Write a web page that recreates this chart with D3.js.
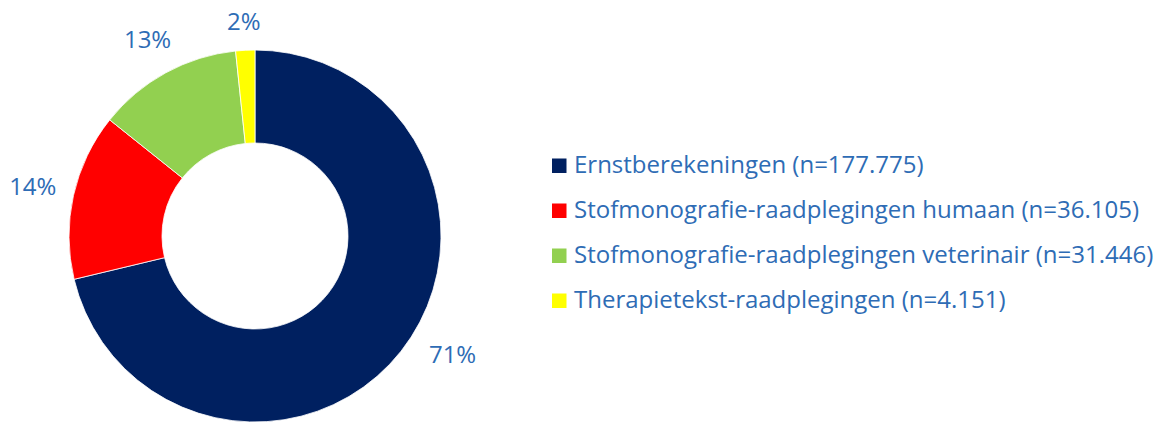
<!DOCTYPE html>
<html>
<head>
<meta charset="utf-8">
<script src="https://cdn.jsdelivr.net/npm/d3@7"></script>
<style>
  body { margin: 0; background: #fff; }
  text { font-family: "Open Sans", sans-serif; fill: #2E6CB5; }
</style>
</head>
<body>
<script>
var categories = [
  "Ernstberekeningen (n=177.775)",
  "Stofmonografie-raadplegingen humaan (n=36.105)",
  "Stofmonografie-raadplegingen veterinair (n=31.446)",
  "Therapietekst-raadplegingen (n=4.151)"
];
var values = [177775, 36105, 31446, 4151];
var pctLabels = ["71%", "14%", "13%", "2%"];
var colors = ["#002060", "#FF0000", "#92D050", "#FFFF00"];

var width = 1163, height = 423;
var cx = 255, cy = 236, outerR = 186, innerR = 93;
var fontSize = 24;

var svg = d3.select("body").append("svg")
    .attr("width", width)
    .attr("height", height);

var data = values.map(function (v, i) {
  return { name: categories[i], value: v, label: pctLabels[i], color: colors[i] };
});

var pie = d3.pie()
    .sort(null)
    .value(function (d) { return d.value; });

var arc = d3.arc()
    .innerRadius(innerR)
    .outerRadius(outerR);

var g = svg.append("g")
    .attr("transform", "translate(" + cx + "," + cy + ")");

var arcs = pie(data);

g.selectAll("path")
    .data(arcs)
  .enter().append("path")
    .attr("d", arc)
    .attr("fill", function (d) { return d.data.color; })
    .attr("stroke", "#fff")
    .attr("stroke-width", 0.8);

// outside labels: keep a fixed gap between the ring and the label box,
// and keep them clear of the bottom edge like the original does
var labels = g.selectAll("text")
    .data(arcs)
  .enter().append("text")
    .attr("text-anchor", "middle")
    .attr("dy", ".35em")
    .style("font-size", fontSize + "px")
    .text(function (d) { return d.data.label; });

labels.attr("transform", function (d) {
  var a = (d.startAngle + d.endAngle) / 2;
  var ux = Math.sin(a), uy = -Math.cos(a);
  var w = this.getComputedTextLength(), h = fontSize;
  var r = outerR + 16 + Math.abs(ux) * w / 2 + Math.abs(uy) * h / 2;
  var x = ux * r, y = uy * r;
  var maxY = outerR * 0.64;
  if (y > maxY) {
    // slide sideways until the label fits above the limit
    y = maxY;
    var ix = Math.sqrt(Math.max(0, outerR * outerR - y * y));
    x = (x >= 0 ? 1 : -1) * (ix + 31 + w / 2);
  }
  return "translate(" + x + "," + y + ")";
});

// legend
var legend = svg.append("g")
    .attr("transform", "translate(552,165.5)");

var item = legend.selectAll("g")
    .data(data)
  .enter().append("g")
    .attr("transform", function (d, i) { return "translate(0," + (i * 45) + ")"; });

item.append("rect")
    .attr("x", 0)
    .attr("y", -7)
    .attr("width", 14.5)
    .attr("height", 14.5)
    .attr("fill", function (d) { return d.color; });

item.append("text")
    .attr("x", 22)
    .attr("y", 7)
    .style("font-size", fontSize + "px")
    .text(function (d) { return d.name; });
</script>
</body>
</html>
